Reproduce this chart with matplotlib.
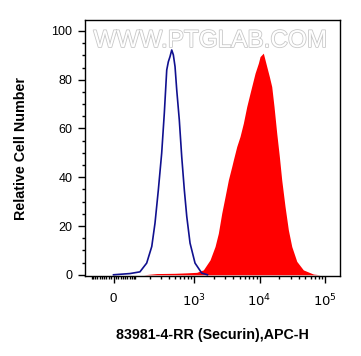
import numpy as np
import matplotlib
matplotlib.use("Agg")
import matplotlib.pyplot as plt
import matplotlib.patheffects as pe

plt.rcParams['font.family'] = ['Liberation Sans', 'DejaVu Sans']

# isotype control (blue outline), fluorescence vs relative count
ctrl_x = [0, 72, 126, 171, 211, 240, 273, 310, 342, 374, 397, 422, 449,
          476, 506, 538, 590, 643, 706, 770, 865, 1032, 1307, 1600]
ctrl_y = [0, 0.5, 1.2, 4.8, 11.6, 21.2, 34.8, 49.9, 66.3, 84, 87.4, 89.5, 92.2,
          90.2, 85.4, 75.8, 63.5, 48.5, 34.8, 23.9, 13, 4.8, 0.7, 0]

# 83981-4-RR stained sample (red fill)
samp_x = [150, 256, 500, 770, 1096, 1384, 1752, 2090, 2347, 2648, 2972, 3339,
          3764, 3980, 4484, 5030, 5660, 6375, 7160, 8540, 9590, 10180, 11420,
          12880, 14110, 15340, 16630, 18300, 20060, 21800, 24490, 27530, 31020,
          37000, 46600, 66270, 83900]
samp_y = [0, 0.5, 0.6, 0.8, 1, 2, 6.1, 11.6, 17, 25.3, 32, 38.9,
          44.4, 47.1, 52.6, 56.7, 62.2, 69, 74.5, 82.7, 86.8, 89.5, 90.9,
          85.4, 81.3, 77.2, 69, 58, 48.5, 38.9, 28, 18.4, 11.6,
          5.5, 2, 0.3, 0]

C = 118.0
def fwd(x):
    return np.arcsinh(np.asarray(x) / C) / np.log(10)
def inv(y):
    return C * np.sinh(np.asarray(y) * np.log(10))

fig = plt.figure(figsize=(3.61, 3.56), dpi=100)
ax = fig.add_axes([85/361, 80/356, 255/361, 256/356])
ax.set_xscale('function', functions=(fwd, inv))

ax.fill_between(samp_x, samp_y, 0, color='#ff0000', linewidth=0)
ax.plot(ctrl_x, ctrl_y, color='#10108f', linewidth=1.2)

ax.set_xlim(-139, 169000)
ax.set_ylim(-0.5, 104.5)

major = [0, 1e3, 1e4, 1e5]
minor = list(range(-100, 0, 10)) + list(range(10, 100, 10)) + list(range(100, 1000, 100)) \
    + list(range(2000, 10000, 1000)) + list(range(20000, 100000, 10000))
ax.set_xticks(major)
ax.set_xticklabels(['0', '$10^{3}$', '$10^{4}$', '$10^{5}$'])
ax.set_xticks(minor, minor=True)
ax.set_yticks([0, 20, 40, 60, 80, 100])
ax.set_yticks(np.arange(0, 105, 5), minor=True)

ax.tick_params(which='major', direction='out', length=5, width=1, labelsize=9, colors='black')
ax.tick_params(which='minor', direction='out', length=2.5, width=1)
ax.tick_params(axis='x', which='major', pad=7, labelsize=9.5)
ax.tick_params(axis='y', which='major', pad=4)
for s in ax.spines.values():
    s.set_linewidth(1)

ax.set_ylabel('Relative Cell Number', fontsize=10.3, fontweight='bold')
ax.set_xlabel('83981-4-RR (Securin),APC-H', fontsize=10.3, fontweight='bold')
ax.yaxis.set_label_coords(-0.224, 0.5)
ax.xaxis.set_label_coords(0.5, -0.203)

ax.text(0.49, 0.918, 'WWW.PTGLAB.COM', transform=ax.transAxes, ha='center', va='center',
        fontsize=17.5, color='white',
        path_effects=[pe.withStroke(linewidth=1.2, foreground='#c8c8c8')])

fig.savefig('out.png', dpi=100)
